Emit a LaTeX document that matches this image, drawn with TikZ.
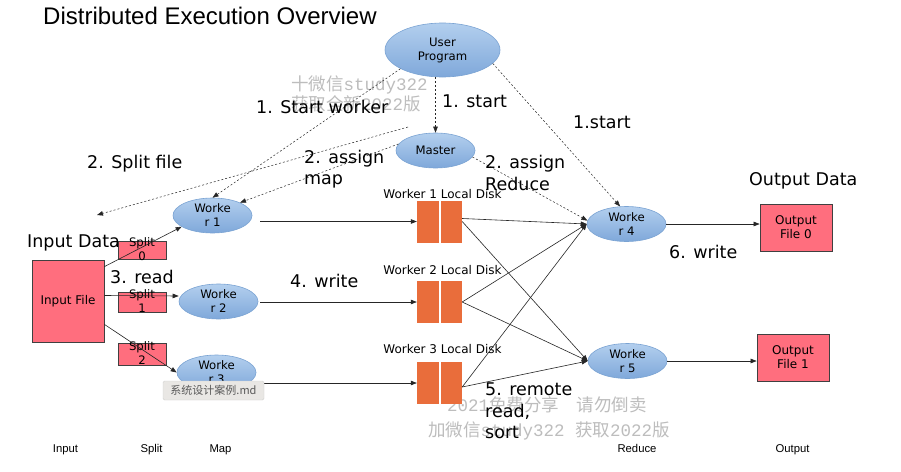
\documentclass[tikz,border=0pt]{standalone}
\usepackage{fontspec}
\setmainfont{DejaVu Sans}
\newfontfamily\arialf{Liberation Sans}
\newfontfamily\cjkf{Noto Sans CJK SC}
\newfontfamily\wmmono{Liberation Mono}
\usetikzlibrary{shapes.geometric,arrows.meta,calc}
\definecolor{ellTop}{HTML}{B3CFEE}
\definecolor{ellBot}{HTML}{7FA8DA}
\definecolor{ellEdge}{HTML}{7AA3D3}
\definecolor{boxRed}{HTML}{FF6E7E}
\definecolor{diskOr}{HTML}{E96D3B}
\definecolor{wmGray}{HTML}{BDBDBD}
\definecolor{tipFill}{HTML}{E9E7E4}
\begin{document}
\begin{tikzpicture}[x=1pt,y=-1pt,
  wk/.style={ellipse, draw=ellEdge, line width=0.6pt, top color=ellTop, bottom color=ellBot,
    minimum width=79pt, minimum height=35pt, inner sep=0pt, align=center,
    font=\fontsize{11.7}{14}\selectfont},
  redbox/.style={rectangle, draw=black!75, line width=0.7pt, fill=boxRed, inner sep=0pt,
    align=center, font=\fontsize{12}{14}\selectfont},
  splittxt/.style={inner sep=0pt, align=center, font=\fontsize{11.7}{14}\selectfont},
  disk/.style={rectangle, fill=diskOr, minimum width=45pt, minimum height=42pt, inner sep=0pt},
  lbl/.style={anchor=base west, inner sep=0pt, font=\fontsize{17.5}{21.5}\selectfont},
  small/.style={anchor=base, inner sep=0pt, font=\fontsize{12}{14}\selectfont},
  foot/.style={anchor=base, inner sep=0pt, font=\arialf\fontsize{11.3}{13}\selectfont},
  arr/.style={-{Triangle[length=6pt,width=4.5pt]}, line width=0.6pt, draw=black!85},
  darr/.style={arr, dash pattern=on 2pt off 2pt, line width=0.5pt},
  wm/.style={text=wmGray, inner sep=0pt, anchor=base west, font=\cjkf\fontsize{17.5}{20}\selectfont}
]
\fill[white] (0,0) rectangle (901,471);
\useasboundingbox (0,0) rectangle (901,471);

% watermarks
\node[wm] (wm1) at (291,90) {十微信{\wmmono study322}};
\node[wm] (wm2) at (291,110) {获取全新{\wmmono 2022}版};
\node[wm] (wm3) at (447,411) {{\wmmono 2021}免费分享\hspace{1em}请勿倒卖};
\node[wm] (wm4) at (428,436) {加微信{\wmmono study322}\hspace{0.6em}获取{\wmmono 2022}版};

% title
\node[anchor=base west, inner sep=0pt, font=\arialf\fontsize{24}{28}\selectfont] (title) at (43,24) {Distributed Execution Overview};

% ellipses
\node[wk, minimum width=115pt, minimum height=54pt] (up) at (442.5,50) {User\\Program};
\node[wk] (m) at (435.5,150.5) {Master};
\node[wk] (w1) at (212.5,215.5) {Worke\\r 1};
\node[wk] (w2) at (218.5,301.5) {Worke\\r 2};
\node[wk] (w3) at (216.5,372.5) {Worke\\r 3};
\node[wk] (w4) at (626.5,224) {Worke\\r 4};
\node[wk] (w5) at (627.5,361) {Worke\\r 5};

% input / splits / outputs
\node[redbox, minimum width=72pt, minimum height=82pt] (if) at (68,301) {Input File};
\node[redbox, minimum width=48pt, minimum height=18pt] (s0) at (142,250) {};
\node[redbox, minimum width=48pt, minimum height=20pt] (s1) at (142,302) {};
\node[redbox, minimum width=48pt, minimum height=22pt] (s2) at (142,354) {};
\node[splittxt] (s0t) at (142,249.5) {Split\\0};
\node[splittxt] (s1t) at (142,301.5) {Split\\1};
\node[splittxt] (s2t) at (142,353.5) {Split\\2};
\node[redbox, minimum width=72pt, minimum height=47pt] (of0) at (796,227.5) {Output\\File 0};
\node[redbox, minimum width=72pt, minimum height=47pt] (of1) at (793,357.5) {Output\\File 1};

% disks
\node[disk] (d1) at (439.5,221.5) {};
\node[disk] (d2) at (439.5,302) {};
\node[disk] (d3) at (439.5,383) {};
\foreach \d in {d1,d2,d3}{\draw[white, line width=2pt] (\d.north) -- (\d.south);}
\node[small] (l1) at (442.5,198) {Worker 1 Local Disk};
\node[small] (l2) at (442.5,274) {Worker 2 Local Disk};
\node[small] (l3) at (442.5,353) {Worker 3 Local Disk};

% dashed control connectors
\coordinate (sfa) at (408,127);
\coordinate (sfb) at (97,215);
\draw[darr] (m.north |- up.south) -- (m.north);
\draw[darr] (up.204) -- (w1.north);
\draw[darr] (sfa) -- (sfb);
\draw[darr] (m.170) -- (w1.25);
\draw[darr] (up.345) -- (w4.110);
\draw[darr] (m.350) -- (w4.175);

% solid data connectors
\draw[arr] ([yshift=-7pt]if.north east) -- (w1.200);
\draw[arr] ([yshift=5.5pt]if.east) -- ([yshift=5.5pt]w2.west);
\draw[arr] ([yshift=18pt]if.south east) -- (w3.west);
\draw[arr] ($(w1.east |- d1.west)+(8,0)$) -- (d1.west);
\draw[arr] ($(w2.east |- d2.west)+(2,0)$) -- (d2.west);
\draw[arr] ($(w3.east |- d3.west)+(4,0)$) -- (d3.west);
\draw[arr] ([yshift=3pt]d1.east) -- (w4.west);
\draw[arr] (d1.east) -- (w5.west);
\draw[arr] (d2.east) -- (w4.west);
\draw[arr] (d2.east) -- (w5.west);
\draw[arr] ([yshift=-4pt]d3.east) -- (w4.west);
\draw[arr] ([yshift=-4pt]d3.east) -- (w5.west);
\draw[arr] (w4.east) -- (w4.east -| of0.west);
\draw[arr] (w5.east) -- (w5.east -| of1.west);

% labels
\node[lbl] (t1) at (256,113) {1. Start worker};
\node[lbl] (t2) at (442,107) {1. start};
\node[lbl] (t3) at (573,128) {1.start};
\node[lbl] (t4) at (87,168) {2. Split file};
\node[lbl] (t5a) at (304,163) {2. assign};
\node[lbl] (t5b) at (304,184) {map};
\node[lbl] (t6a) at (485,168) {2. assign};
\node[lbl] (t6b) at (485,190) {Reduce};
\node[lbl] (t7) at (749,185) {Output Data};
\node[lbl] (t8) at (27,247) {Input Data};
\node[lbl] (t9) at (110,283) {3. read};
\node[lbl] (t10) at (290,287) {4. write};
\node[lbl] (t11) at (669,258) {6. write};
\node[lbl] (t12a) at (485,395) {5. remote};
\node[lbl] (t12b) at (485,417) {read,};
\node[lbl] (t12c) at (485,438) {sort};

% column footers
\node[foot] (f1) at (65.5,452) {Input};
\node[foot] (f2) at (151.5,452) {Split};
\node[foot] (f3) at (220.5,452) {Map};
\node[foot] (f4) at (637,452) {Reduce};
\node[foot] (f5) at (792.5,452) {Output};

% tooltip
\node[draw=black!18, fill=tipFill, rounded corners=1.5pt, minimum width=101pt, minimum height=19pt,
  inner sep=0pt, font=\cjkf\fontsize{11}{13}\selectfont, text=black!65] (tip) at (213.5,390.5) {系统设计案例.md};
\end{tikzpicture}
\end{document}
